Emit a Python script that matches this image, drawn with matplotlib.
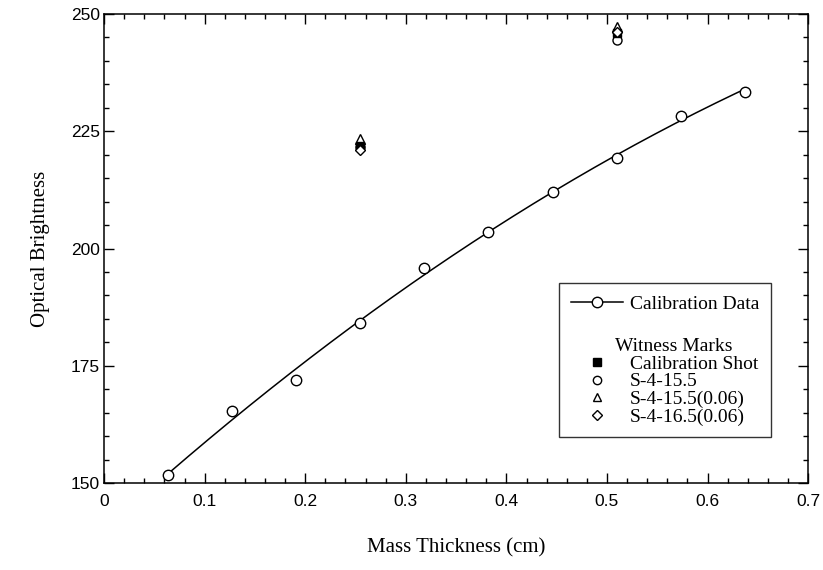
import numpy as np
import matplotlib
matplotlib.use("Agg")
import matplotlib.pyplot as plt
from matplotlib.lines import Line2D
from matplotlib.ticker import MultipleLocator

# calibration step wedge
thickness = [0.0637, 0.1274, 0.1911, 0.2548, 0.3185, 0.3822, 0.4459, 0.5096, 0.5733, 0.637]
brightness = [151.8, 165.4, 171.9, 184.2, 195.8, 203.6, 212.0, 219.4, 228.3, 233.4]

# witness marks at two thicknesses
witness_x = [0.2548, 0.5096]
calib_shot = [221.8, 246.0]
s4_155 = [221.6, 244.5]
s4_155_06 = [223.3, 247.3]
s4_165_06 = [221.0, 246.2]

serif = "Liberation Serif"
sans = "Liberation Sans"

fig = plt.figure(figsize=(8.23, 5.70), dpi=100)
ax = fig.add_axes([0.1264, 0.1526, 0.8556, 0.8228])

# quadratic fit through the calibration points
coef = np.polyfit(thickness, brightness, 2)
xfit = np.linspace(thickness[0], thickness[-1], 200)
ax.plot(xfit, np.polyval(coef, xfit), color="black", lw=1.1, zorder=2)
ax.plot(thickness, brightness, "o", mfc="white", mec="black", ms=7.5, mew=1.0, zorder=3)

ax.plot(witness_x, s4_155_06, "^", mfc="white", mec="black", ms=6.5, mew=1.0, zorder=4)
ax.plot(witness_x, s4_155, "o", mfc="white", mec="black", ms=6.5, mew=1.0, zorder=4)
ax.plot(witness_x, calib_shot, "s", color="black", ms=5.5, zorder=5)
ax.plot(witness_x, s4_165_06, "D", mfc="white", mec="black", ms=5, mew=1.0, zorder=6)

ax.set_xlim(0, 0.7)
ax.set_ylim(150, 250)
ax.xaxis.set_minor_locator(MultipleLocator(0.02))
ax.yaxis.set_minor_locator(MultipleLocator(5))
ax.set_xticks(np.arange(0, 0.71, 0.1))
ax.set_xticklabels(["0", "0.1", "0.2", "0.3", "0.4", "0.5", "0.6", "0.7"])
ax.set_yticks([150, 175, 200, 225, 250])
ax.set_yticklabels(["150", "175", "200", "225", "250"])

ax.tick_params(which="both", direction="in", top=True, right=True, width=1.0)
ax.tick_params(which="major", length=7)
ax.tick_params(which="minor", length=3.5)
ax.tick_params(axis="x", pad=8)
ax.tick_params(axis="y", pad=3)
for lab in ax.get_xticklabels() + ax.get_yticklabels():
    lab.set_fontfamily(sans)
    lab.set_fontsize(12.5)
for sp in ax.spines.values():
    sp.set_linewidth(1.1)

ax.set_xlabel("Mass Thickness (cm)", fontfamily=serif, fontsize=15)
ax.set_ylabel("Optical Brightness", fontfamily=serif, fontsize=15)
ax.xaxis.set_label_coords(0.5, -0.118)
ax.yaxis.set_label_coords(-0.077, 0.5)

blank = Line2D([], [], linestyle="none")
handles = [
    Line2D([], [], color="black", lw=1.1, marker="o", mfc="white", mec="black", ms=7.5),
    blank,
    blank,
    Line2D([], [], linestyle="none", marker="s", color="black", ms=5.5),
    Line2D([], [], linestyle="none", marker="o", mfc="white", mec="black", ms=6),
    Line2D([], [], linestyle="none", marker="^", mfc="white", mec="black", ms=6),
    Line2D([], [], linestyle="none", marker="D", mfc="white", mec="black", ms=4.8),
]
labels = ["Calibration Data", " ", "Witness Marks", "Calibration Shot",
          "S-4-15.5", "S-4-15.5(0.06)", "S-4-16.5(0.06)"]
leg = ax.legend(handles, labels, loc="upper left", bbox_to_anchor=(0.646, 0.426),
                borderaxespad=0, frameon=True, fancybox=False, shadow=False,
                handlelength=2.7, handletextpad=0.35, borderpad=0.6,
                labelspacing=0.0, prop={"family": serif, "size": 14})
leg.get_frame().set_edgecolor("black")
leg.get_frame().set_linewidth(1.0)
texts = leg.get_texts()
texts[1].set_fontsize(20)   # spacer row between the two groups
texts[2].set_x(-15)         # group header sits a little left of the entries

fig.savefig("out.png", dpi=100)
